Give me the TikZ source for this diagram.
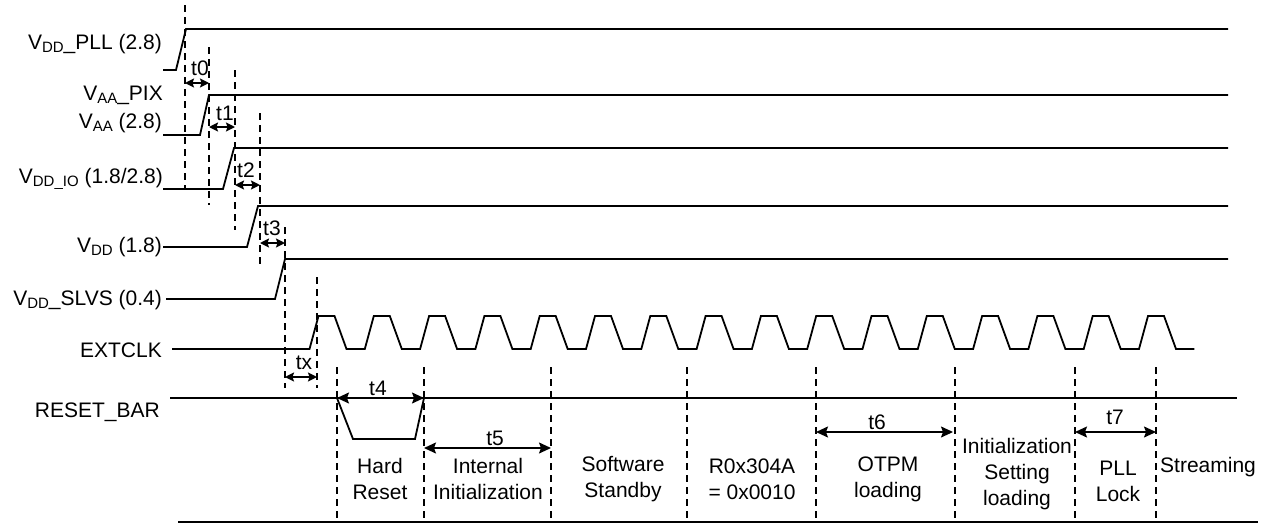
\documentclass[tikz,border=0pt]{standalone}
\usepackage{fontspec}
\setmainfont{Liberation Sans}
\usetikzlibrary{arrows.meta}
\newcommand\lsub[1]{\raisebox{-0.33ex}{\fontsize{15}{15}\selectfont #1}}
\begin{document}
\begin{tikzpicture}[x=1pt,y=-1pt,
  sig/.style={line width=1.8pt, line join=miter},
  guide/.style={line width=1.5pt, dash pattern=on 7pt off 5pt},
  sarr/.style={line width=1.6pt, {Stealth[length=9pt,width=9pt,inset=1.5pt]}-{Stealth[length=9pt,width=9pt,inset=1.5pt]}},
  barr/.style={line width=1.6pt, {Stealth[length=12pt,width=11pt,inset=2pt]}-{Stealth[length=12pt,width=11pt,inset=2pt]}},
  lbl/.style={anchor=base east, inner sep=0pt, font=\fontsize{21}{25}\selectfont},
  tlbl/.style={inner sep=0pt, font=\fontsize{21}{25}\selectfont},
  phase/.style={inner sep=0pt, align=center, font=\fontsize{21}{26}\selectfont}]
\useasboundingbox (0,0) rectangle (1265,525);

% signal labels
\node[lbl] (lpll)  at (162,49)  {V\lsub{DD}\_PLL (2.8)};
\node[lbl] (lpix)  at (163,100) {V\lsub{AA}\_PIX};
\node[lbl] (laa)   at (162,128) {V\lsub{AA} (2.8)};
\node[lbl] (lio)   at (163,183) {V\lsub{DD\_IO} (1.8/2.8)};
\node[lbl] (ldd)   at (162,252) {V\lsub{DD} (1.8)};
\node[lbl] (lslvs) at (162,305) {V\lsub{DD}\_SLVS (0.4)};
\node[lbl] (lclk)  at (162,357) {EXTCLK};
\node[lbl] (lrst)  at (160,417) {RESET\_BAR};

% power rails
\draw[sig] (163,70)  -- (176,70)  -- (186,29)  -- (1228,29);
\draw[sig] (163,135) -- (200,135) -- (209,95)  -- (1228,95);
\draw[sig] (163,189) -- (223,189) -- (234,148) -- (1228,148);
\draw[sig] (163,247) -- (247,247) -- (258,206) -- (1228,206);
\draw[sig] (166,299) -- (275,299) -- (285,259) -- (1228,259);

% clock
\draw[sig] (172,349) -- (309.5,349)
  \foreach \k in {0,...,15} { -- ++(9,-33) -- ++(16,0) -- ++(12,33) -- ++(18.3,0) };

% reset
\draw[sig] (170,398) -- (1237,398);
\draw[sig] (337,398) -- (353,439) -- (415,439) -- (424,398);

% bottom line
\draw[sig] (178,522) -- (1258,522);

% power-up guides
\coordinate (g0t) at (185,5);   \coordinate (g0b) at (185,190);
\coordinate (g1t) at (209,47);  \coordinate (g1b) at (209,205);
\coordinate (g2t) at (235,70);  \coordinate (g2b) at (235,230);
\coordinate (g3t) at (260,113); \coordinate (g3b) at (260,268);
\coordinate (g4t) at (285,227); \coordinate (g4b) at (285,388);
\coordinate (g5t) at (317,277); \coordinate (g5b) at (317,388);
\foreach \i in {0,...,5} { \draw[guide] (g\i t) -- (g\i b); }

% phase guides
\foreach \n/\x in {a/337,b/424,c/551,d/687,e/816,f/955,g/1075,h/1156} {
  \coordinate (p\n t) at (\x,367);
  \coordinate (p\n b) at (\x,522);
  \draw[guide] (p\n t) -- (p\n b);
}

% timing arrows
\draw[sarr] (185,83)  -- (209,83);
\draw[sarr] (209,127) -- (235,127);
\draw[sarr] (235,185) -- (260,185);
\draw[sarr] (260,243) -- (285,243);
\draw[sarr] (285,377) -- (317,377);
\draw[barr] (337,398) -- (424,398);
\draw[barr] (424,448) -- (551,448);
\draw[barr] (816,432) -- (953,432);
\draw[barr] (1075,432) -- (1156,432);

\node[tlbl] (t0) at (200,68)  {t0};
\node[tlbl] (t1) at (225,113) {t1};
\node[tlbl] (t2) at (246,170) {t2};
\node[tlbl] (t3) at (272,228) {t3};
\node[tlbl] (tx) at (304,363) {tx};
\node[tlbl] (t4) at (378,388) {t4};
\node[tlbl] (t5) at (495,438) {t5};
\node[tlbl] (t6) at (877,422) {t6};
\node[tlbl] (t7) at (1115,417) {t7};

% phase labels
\node[phase] (hr)  at (380,479)  {Hard\\Reset};
\node[phase] (ii)  at (488,479)  {Internal\\Initialization};
\node[phase] (ss)  at (623,479)  {Software\\Standby};
\node[phase] (rg)  at (752,479)  {R0x304A\\= 0x0010};
\node[phase] (ot)  at (888,479)  {OTPM\\loading};
\node[phase] (is)  at (1017,474) {Initialization\\Setting\\loading};
\node[phase] (pl)  at (1118,481) {PLL\\Lock};
\node[phase] (st)  at (1208,467) {Streaming};
\end{tikzpicture}
\end{document}
